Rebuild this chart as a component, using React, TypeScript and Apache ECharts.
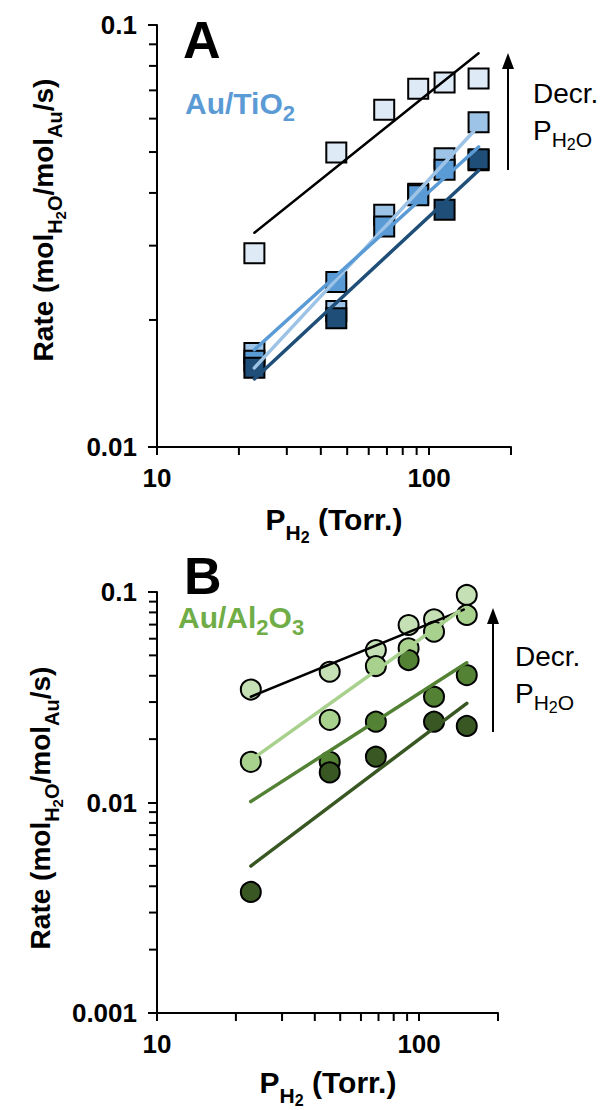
import React, { useEffect, useRef } from "react";
import * as echarts from "echarts";

// ---------- data ----------
const pressures = [22.8, 45.6, 68.4, 91.2, 114, 152];

// Panel A : Au/TiO2 (rates, mol H2O / mol Au / s)
const tioLightest = [0.0288, 0.0499, 0.063, 0.0706, 0.0731, 0.0747];
const tioLight = [0.0167, 0.021, 0.0355, 0.0398, 0.0483, 0.0588];
const tioMedium = [0.016, 0.0246, 0.0333, 0.0395, 0.0454, 0.0478];
const tioDark = [0.0154, 0.0202, null, null, 0.0365, 0.0481];

// Panel A fits: [x start, x end] and [y start, y end]
const tioFitLightestX = [22.8, 152];
const tioFitLightestY = [0.0322, 0.0857];
const tioFitLightX = [22.8, 146];
const tioFitLightY = [0.0154, 0.056];
const tioFitMediumX = [22.8, 152];
const tioFitMediumY = [0.017, 0.0514];
const tioFitDarkX = [22.8, 152];
const tioFitDarkY = [0.0145, 0.0452];

// Panel B : Au/Al2O3
const aluLightest = [0.0344, 0.0418, 0.053, 0.0697, 0.0742, 0.0968];
const aluLight = [0.0156, 0.0247, 0.0445, 0.054, 0.0648, 0.0778];
const aluMedium = [null, 0.0156, 0.0242, 0.0475, 0.0318, 0.0403];
const aluDark = [0.00376, 0.0139, 0.0165, null, 0.0242, 0.0231];

const aluFitLightestX = [22.8, 148];
const aluFitLightestY = [0.0318, 0.0825];
const aluFitLightX = [22.8, 142];
const aluFitLightY = [0.0159, 0.081];
const aluFitMediumX = [22.8, 152];
const aluFitMediumY = [0.0101, 0.0461];
const aluFitDarkX = [22.8, 152];
const aluFitDarkY = [0.00499, 0.0296];

// axis tick labels
const xTickLabels = ["10", "100"];
const yTickLabelsA = ["0.01", "0.1"];
const yTickLabelsB = ["0.001", "0.01", "0.1"];
const xMinorTicks = [20, 30, 40, 50, 60, 70, 80, 90];
const yMinorTicksA = [0.02, 0.03, 0.04, 0.05, 0.06, 0.07, 0.08, 0.09];
const yMinorTicksB = [
  0.002, 0.003, 0.004, 0.005, 0.006, 0.007, 0.008, 0.009,
  0.02, 0.03, 0.04, 0.05, 0.06, 0.07, 0.08, 0.09,
];

// ---------- styling ----------
const FONT = "Liberation Sans";
const blue = { lightest: "#DEEBF7", light: "#9DC3E6", medium: "#5B9BD5", dark: "#1F4E79" };
const green = { lightest: "#C5E0B4", light: "#A9D18E", medium: "#548235", dark: "#385723" };

let measureCtx: CanvasRenderingContext2D | null = null;
function measure(text: string, size: number, weight: string) {
  if (!measureCtx) measureCtx = document.createElement("canvas").getContext("2d");
  measureCtx!.font = `${weight} ${size}px "${FONT}"`;
  return measureCtx!.measureText(text).width;
}

// level 0 = normal, 1 = subscript, 2 = subscript of subscript
type Piece = { t: string; l?: number };
function subText(
  pieces: Piece[],
  o: { x: number; y: number; size: number; subSize: number; drop: number; weight: string; color: string; rotation?: number; center?: boolean; drop2?: number }
) {
  const sizes = [o.size, o.subSize, Math.round(o.subSize * 0.74)];
  const drops = [0, o.drop, o.drop + (o.drop2 ?? o.subSize * 0.28)];
  const widths = pieces.map((p) => measure(p.t, sizes[p.l || 0], o.weight));
  const total = widths.reduce((a, b) => a + b, 0);
  let cx = o.center ? -total / 2 : 0;
  const children = pieces.map((p, i) => {
    const lv = p.l || 0;
    const el = {
      type: "text",
      x: cx,
      y: drops[lv],
      style: {
        text: p.t,
        fontSize: sizes[lv],
        fontWeight: o.weight,
        fontFamily: FONT,
        fill: o.color,
        align: "left",
        verticalAlign: "middle",
        textAlign: "left",
        textVerticalAlign: "middle",
      },
    };
    cx += widths[i];
    return el;
  });
  return { type: "group", x: o.x, y: o.y, rotation: o.rotation || 0, children };
}

function arrow(x: number, yBottom: number, yTop: number) {
  return [
    { type: "line", shape: { x1: x, y1: yBottom, x2: x, y2: yTop + 8 }, style: { stroke: "#000", lineWidth: 2 } },
    {
      type: "polygon",
      shape: { points: [[x, yTop], [x - 6, yTop + 16], [x + 6, yTop + 16]] },
      style: { fill: "#000" },
    },
  ];
}

function fmt(labels: string[]) {
  return (v: number) => {
    const s = labels.find((l) => Math.abs(Math.log10(parseFloat(l)) - Math.log10(v)) < 1e-6);
    return s ?? "";
  };
}

function pts(ys: (number | null)[]) {
  return pressures.map((x, i) => [x, ys[i]]).filter((p) => p[1] !== null);
}
function fitPts(xs: number[], ys: number[]) {
  return xs.map((x, i) => [x, ys[i]]);
}

const axisLabelStyle = { fontSize: 26, fontWeight: "bold", color: "#000", fontFamily: FONT };

function makeXAxis(gridIndex: number) {
  return {
    type: "log",
    logBase: 10,
    gridIndex,
    min: 10,
    max: 200,
    axisLine: { show: true, lineStyle: { color: "#000", width: 2 } },
    axisTick: { show: true, inside: false, length: 8, lineStyle: { color: "#000", width: 2 } },
    axisLabel: { ...axisLabelStyle, margin: 18, formatter: fmt(xTickLabels), showMaxLabel: true, showMinLabel: true },
    splitLine: { show: false },
  };
}
function makeYAxis(gridIndex: number, min: number, max: number, labels: string[]) {
  return {
    type: "log",
    logBase: 10,
    gridIndex,
    min,
    max,
    axisLine: { show: true, lineStyle: { color: "#000", width: 2 } },
    axisTick: { show: true, inside: false, length: 9, lineStyle: { color: "#000", width: 2 } },
    axisLabel: { ...axisLabelStyle, margin: 20, formatter: fmt(labels) },
    splitLine: { show: false },
  };
}

function scatter(idx: number, ys: (number | null)[], color: string, symbol: string) {
  return {
    type: "scatter",
    xAxisIndex: idx,
    yAxisIndex: idx,
    data: pts(ys),
    symbol,
    symbolSize: 20,
    itemStyle: { color, borderColor: "#000", borderWidth: 2, opacity: 1 },
    z: 3,
  };
}
function fitLine(idx: number, xs: number[], ys: number[], color: string, width: number) {
  return {
    type: "line",
    xAxisIndex: idx,
    yAxisIndex: idx,
    data: fitPts(xs, ys),
    showSymbol: false,
    symbol: "none",
    lineStyle: { color, width, cap: "round" },
    z: 4,
  };
}
function minorTicks(idx: number, values: number[], dir: "x" | "y", xMin: number, yMin: number) {
  return {
    type: "custom",
    xAxisIndex: idx,
    yAxisIndex: idx,
    data: values.map((v) => (dir === "x" ? [v, yMin] : [xMin, v])),
    clip: false,
    z: 5,
    renderItem: (_params: any, api: any) => {
      const p = api.coord([api.value(0), api.value(1)]);
      const shape =
        dir === "x"
          ? { x1: p[0], y1: p[1], x2: p[0], y2: p[1] + 8 }
          : { x1: p[0], y1: p[1], x2: p[0] - 8, y2: p[1] };
      return { type: "line", shape, style: { stroke: "#000", lineWidth: 2 } };
    },
  };
}

export default function App() {
  const ref = useRef<HTMLDivElement>(null);
  useEffect(() => {
    const chart = echarts.init(ref.current!, null, { renderer: "svg" });
    const yTitle = (x: number, y: number) =>
      subText(
        [
          { t: "Rate (mol" },
          { t: "H", l: 1 }, { t: "2", l: 2 }, { t: "O", l: 1 },
          { t: "/mol" },
          { t: "Au", l: 1 },
          { t: "/s)" },
        ],
        { x, y, size: 28, subSize: 20, drop: 12, weight: "bold", color: "#000", rotation: Math.PI / 2, center: true }
      );
    const xTitle = (x: number, y: number) =>
      subText([{ t: "P" }, { t: "H", l: 1 }, { t: "2", l: 2 }, { t: " (Torr.)" }], {
        x, y, size: 30, subSize: 21, drop: 13, drop2: 5, weight: "bold", color: "#000", center: true,
      });
    const decr = (x: number, y: number) => [
      subText([{ t: "Decr." }], { x, y, size: 28, subSize: 20, drop: 9, weight: "normal", color: "#000" }),
      subText([{ t: "P" }, { t: "H", l: 1 }, { t: "2", l: 2 }, { t: "O", l: 1 }], {
        x, y: y + 37, size: 28, subSize: 21, drop: 9, weight: "normal", color: "#000",
      }),
    ];

    const option: any = {
      animation: false,
      backgroundColor: "#fff",
      grid: [
        { left: 157, top: 25, width: 354, height: 422 },
        { left: 157, top: 592, width: 341, height: 421 },
      ],
      xAxis: [makeXAxis(0), makeXAxis(1)],
      yAxis: [makeYAxis(0, 0.01, 0.1, yTickLabelsA), makeYAxis(1, 0.001, 0.1, yTickLabelsB)],
      series: [
        scatter(0, tioLightest, blue.lightest, "rect"),
        scatter(0, tioLight, blue.light, "rect"),
        scatter(0, tioMedium, blue.medium, "rect"),
        scatter(0, tioDark, blue.dark, "rect"),
        fitLine(0, tioFitLightestX, tioFitLightestY, "#000", 2.5),
        fitLine(0, tioFitLightX, tioFitLightY, blue.light, 3.5),
        fitLine(0, tioFitMediumX, tioFitMediumY, blue.medium, 3.5),
        fitLine(0, tioFitDarkX, tioFitDarkY, blue.dark, 3.5),
        minorTicks(0, xMinorTicks, "x", 10, 0.01),
        minorTicks(0, yMinorTicksA, "y", 10, 0.01),

        scatter(1, aluLightest, green.lightest, "circle"),
        scatter(1, aluLight, green.light, "circle"),
        scatter(1, aluMedium, green.medium, "circle"),
        scatter(1, aluDark, green.dark, "circle"),
        fitLine(1, aluFitLightestX, aluFitLightestY, "#000", 2.5),
        fitLine(1, aluFitLightX, aluFitLightY, green.light, 3.5),
        fitLine(1, aluFitMediumX, aluFitMediumY, green.medium, 3.5),
        fitLine(1, aluFitDarkX, aluFitDarkY, green.dark, 3.5),
        minorTicks(1, xMinorTicks, "x", 10, 0.001),
        minorTicks(1, yMinorTicksB, "y", 10, 0.001),
      ],
      graphic: {
        elements: [
          subText([{ t: "A" }], { x: 183, y: 40, size: 52, subSize: 20, drop: 0, weight: "bold", color: "#000" }),
          subText([{ t: "Au/TiO" }, { t: "2", l: 1 }], {
            x: 185, y: 103.5, size: 30, subSize: 22, drop: 10, weight: "bold", color: blue.medium,
          }),
          ...decr(533, 93),
          ...arrow(508, 170, 53),
          yTitle(43, 220),
          xTitle(334, 519),

          subText([{ t: "B" }], { x: 184, y: 576, size: 52, subSize: 20, drop: 0, weight: "bold", color: "#000" }),
          subText([{ t: "Au/Al" }, { t: "2", l: 1 }, { t: "O" }, { t: "3", l: 1 }], {
            x: 178, y: 617.5, size: 30, subSize: 22, drop: 10, weight: "bold", color: "#70AD47",
          }),
          ...decr(515, 656),
          ...arrow(493, 732, 608),
          yTitle(40, 808),
          xTitle(328, 1082),
        ],
      },
    };
    chart.setOption(option);
    return () => chart.dispose();
  }, []);
  return <div ref={ref} style={{ position: "absolute", left: 0, top: 0, width: 608, height: 1110 }} />;
}
